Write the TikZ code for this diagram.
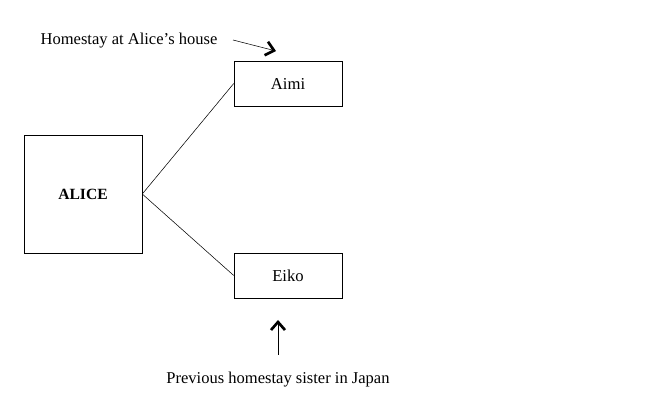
\documentclass[tikz,border=0pt]{standalone}
\usepackage{fontspec}
\setmainfont{Liberation Serif}
\usetikzlibrary{arrows.meta}
\begin{document}
\begin{tikzpicture}[
    x=0.75pt, y=-0.75pt,
    box/.style={rectangle, draw, minimum width=81pt, minimum height=33.75pt, align=center, font=\fontsize{12.5}{14}\selectfont},
    person/.style={rectangle, draw, minimum width=88.5pt, minimum height=88.5pt, font=\fontsize{11.7}{14}\selectfont\bfseries},
    note/.style={font=\fontsize{12.4}{14}\selectfont},
    link/.style={thin},
    pointer/.style={-{Straight Barb[length=6pt, width=10.5pt, line width=2pt]}, thin}
]
    \useasboundingbox (0,0) rectangle (647,406);

    % Persone
    \node[person] (alice) at (83,194) {ALICE};
    \node[box] (aimi) at (288,83.5) {Aimi};
    \node[box] (eiko) at (288,275.5) {Eiko};

    \draw[link] (alice.east) -- (aimi.west);
    \draw[link] (alice.east) -- (eiko.west);

    % Note
    \node[note] (host) at (129,41) {Homestay at Alice's house};
    \coordinate (hostend) at (276,51);
    \draw[pointer] (233,40) -- (hostend);

    \node[note] (prev) at (278,380) {Previous homestay sister in Japan};
    \coordinate (prevend) at (278,320);
    \draw[pointer] (278,355) -- (prevend);
\end{tikzpicture}
\end{document}
